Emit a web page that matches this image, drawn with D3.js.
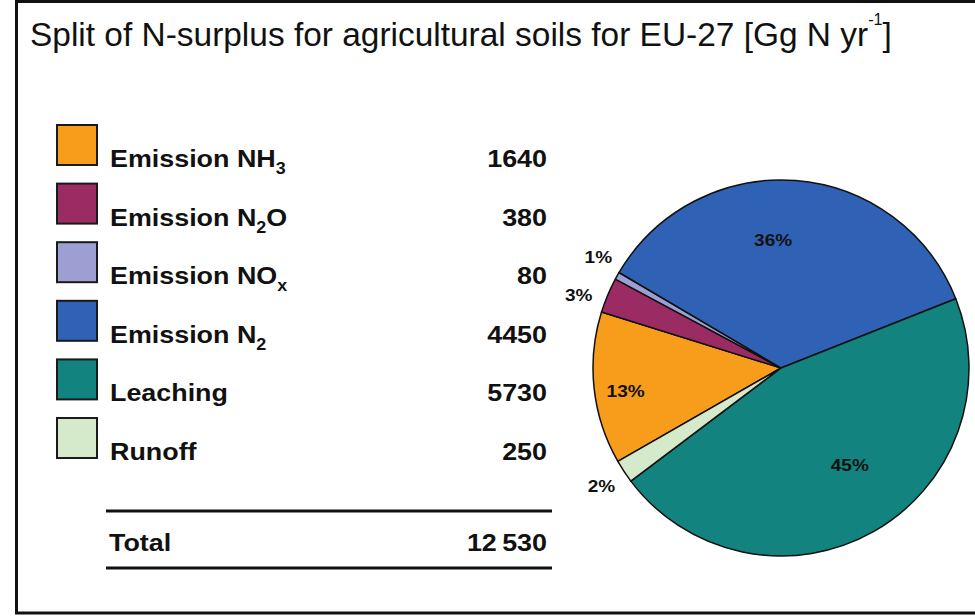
<!DOCTYPE html>
<html>
<head>
<meta charset="utf-8">
<script src="https://cdn.jsdelivr.net/npm/d3@7"></script>
<style>
  html, body { margin: 0; padding: 0; background: #fff; }
  svg { display: block; }
  text { font-family: "Liberation Sans", Arial, sans-serif; fill: #111; }
</style>
</head>
<body>
<svg id="chart" width="975" height="616"></svg>
<script>
// ---- data ----
const titleMain = "Split of N-surplus for agricultural soils for EU-27 [Gg N yr";
const titleSup = "-1";
const titleEnd = "]";
const categories = ["Emission NH{3}", "Emission N{2}O", "Emission NO{x}", "Emission N{2}", "Leaching", "Runoff"];
const values = [1640, 380, 80, 4450, 5730, 250];
const percentLabels = ["13%", "3%", "1%", "36%", "45%", "2%"];
const colors = ["#F89C1C", "#9A2C63", "#9D9FD3", "#2F62B5", "#12837E", "#D4EACA"];
const totalLabel = "Total";

// ---- layout ----
const W = 975, H = 616;
const svg = d3.select("#chart");
const TEXT_STRETCH = 1.12;

// frame
svg.append("rect")
  .attr("x", 16.5).attr("y", 1.5)
  .attr("width", 990).attr("height", 611.5)
  .attr("fill", "none").attr("stroke", "#111").attr("stroke-width", 3);

// title
const title = svg.append("text")
  .attr("x", 30).attr("y", 46)
  .attr("font-size", 33);
title.append("tspan").text(titleMain);
title.append("tspan").attr("font-size", 16).attr("dy", -21).text(titleSup);
title.append("tspan").attr("dy", 21).text(titleEnd);
// fit title width to reference
const tw = title.node().getComputedTextLength();
const targetW = 862;
title.attr("transform", `translate(30,0) scale(${targetW / tw},1) translate(-30,0)`);

// ---- legend table ----
const rowScale = d3.scalePoint().domain(categories).range([125, 418]);
const sw = 40;

function addRich(g, str, size, subSize) {
  const t = g.append("text").attr("font-size", size).attr("font-weight", "bold");
  const parts = str.split(/(\{[^}]*\})/).filter(s => s.length);
  let shifted = false;
  parts.forEach(p => {
    if (p.startsWith("{")) {
      t.append("tspan").attr("font-size", subSize).attr("dy", 7).text(p.slice(1, -1));
      shifted = true;
    } else {
      const ts = t.append("tspan").text(p);
      if (shifted) { ts.attr("dy", -7); shifted = false; }
    }
  });
  return t;
}

const rows = svg.append("g").selectAll("g.row")
  .data(categories.map((c, i) => ({ name: c, value: values[i], color: colors[i] })))
  .join("g").attr("class", "row");

rows.append("rect")
  .attr("x", 57).attr("y", d => rowScale(d.name))
  .attr("width", sw).attr("height", sw)
  .attr("fill", d => d.color)
  .attr("stroke", "#1a1a1a").attr("stroke-width", 2);

rows.each(function(d) {
  const g = d3.select(this);
  const y = rowScale(d.name) + 42;
  const lg = g.append("g").attr("transform", `translate(110,${y}) scale(${TEXT_STRETCH},1)`);
  addRich(lg, d.name, 24, 16);
  g.append("g").attr("transform", `translate(547,${y}) scale(${TEXT_STRETCH},1)`)
    .append("text").attr("font-size", 24).attr("font-weight", "bold")
    .attr("text-anchor", "end").text(d.value);
});

// total section
const total = d3.sum(values);
const fmtTotal = d3.formatLocale({ decimal: ".", thousands: "\u2009", grouping: [3], currency: ["", ""] }).format(",");
[511, 568].forEach(y => {
  svg.append("line").attr("x1", 106).attr("x2", 552).attr("y1", y).attr("y2", y)
    .attr("stroke", "#111").attr("stroke-width", 3);
});
svg.append("g").attr("transform", `translate(109,551) scale(${TEXT_STRETCH},1)`)
  .append("text").attr("font-size", 24).attr("font-weight", "bold").text(totalLabel);
svg.append("g").attr("transform", `translate(547,551) scale(${TEXT_STRETCH},1)`)
  .append("text").attr("font-size", 24).attr("font-weight", "bold")
  .attr("text-anchor", "end").text(fmtTotal(total));

// ---- pie ----
const cx = 781, cy = 368, R = 188;
const deg = Math.PI / 180;
const pieData = categories.map((c, i) => ({ name: c, value: values[i], color: colors[i], label: percentLabels[i] }));
const pie = d3.pie().value(d => d.value).sort(null)
  .startAngle(240.2 * deg).endAngle(600.2 * deg);
const arcs = pie(pieData);
const arc = d3.arc().innerRadius(0).outerRadius(R);

const pg = svg.append("g").attr("transform", `translate(${cx},${cy})`);
pg.selectAll("path").data(arcs).join("path")
  .attr("d", arc)
  .attr("fill", d => d.data.color)
  .attr("stroke", "#111").attr("stroke-width", 1.5).attr("stroke-linejoin", "round");

// label placement: radius and angular nudge (degrees) per slice, by category index
const labelPlace = [
  { r: 157, nudge: -2 },
  { r: 215, nudge: -3 },
  { r: 214, nudge: 2 },
  { r: 128, nudge: -8 },
  { r: 119, nudge: -6 },
  { r: 215, nudge: 0 }
];
pg.selectAll("g.lbl").data(arcs).join("g").attr("class", "lbl")
  .attr("transform", (d, i) => {
    const a = (d.startAngle + d.endAngle) / 2 + labelPlace[i].nudge * deg;
    const r = labelPlace[i].r;
    return `translate(${r * Math.sin(a)},${-r * Math.cos(a)}) scale(${TEXT_STRETCH},1)`;
  })
  .append("text")
  .attr("text-anchor", "middle").attr("dy", "0.36em")
  .attr("font-size", 17).attr("font-weight", "bold")
  .text(d => d.data.label);
</script>
</body>
</html>
